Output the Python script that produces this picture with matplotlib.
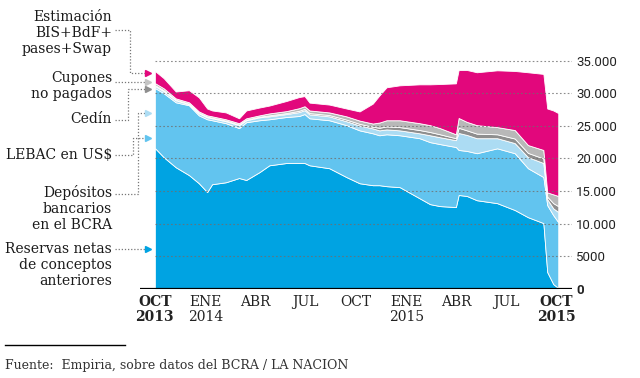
import numpy as np
import pandas as pd
import matplotlib.pyplot as plt

# fechas de lectura (aprox.) y stock en millones de US$
fechas = pd.to_datetime([
    "2013-10-01", "2013-10-17", "2013-11-08", "2013-12-02", "2013-12-20",
    "2014-01-04", "2014-01-13", "2014-02-07", "2014-03-03", "2014-03-16",
    "2014-04-09", "2014-04-27", "2014-05-28", "2014-06-20", "2014-06-30",
    "2014-07-09", "2014-08-14", "2014-09-14", "2014-10-08", "2014-11-01",
    "2014-11-13", "2014-11-26", "2014-12-20", "2015-01-25", "2015-02-13",
    "2015-03-03", "2015-04-01", "2015-04-06", "2015-04-21", "2015-05-09",
    "2015-06-15", "2015-07-17", "2015-08-10", "2015-09-07", "2015-09-14",
    "2015-09-25", "2015-10-04",
])
reservas = [21600, 20200, 18650, 17450, 16200, 14850, 16050, 16350, 17000, 16700,
            17900, 18950, 19300, 19300, 19300, 18950, 18500, 17150, 16200, 15900,
            15900, 15750, 15600, 13900, 13000, 12700, 12550, 14400, 14250, 13600,
            13150, 12100, 11000, 10100, 2600, 750, 150]
lebac = [9200, 9800, 9950, 10700, 10400, 11150, 9800, 9050, 7650, 8850,
         7950, 7050, 7050, 7200, 7500, 7200, 7350, 7950, 8100, 7950,
         7650, 7950, 7950, 9200, 9500, 9500, 9200, 6900, 6900, 7200,
         8400, 8700, 7500, 7050, 10250, 10550, 10100]
depositos = [300, 300, 300, 150, 300, 300, 300, 300, 450, 300,
             450, 450, 450, 600, 600, 600, 600, 600, 750, 750,
             750, 750, 750, 750, 1050, 1050, 1050, 2600, 2450, 2300,
             1550, 1550, 1700, 2150, 900, 1050, 1550]
cedin = [150, 150, 100, 100, 100, 100, 100, 100, 100, 100,
         100, 150, 150, 200, 200, 200, 200, 250, 250, 250,
         400, 450, 500, 500, 500, 450, 300, 800, 700, 700,
         600, 700, 650, 700, 400, 800, 900]
cupones = [300, 300, 200, 200, 200, 200, 200, 200, 200, 200,
           200, 300, 300, 400, 400, 400, 400, 500, 500, 500,
           800, 950, 1050, 1050, 1050, 950, 600, 1500, 1300, 1300,
           1100, 1300, 1200, 1300, 650, 1350, 1550]
estimacion = [1850, 1550, 1050, 1850, 2150, 1050, 900, 1050, 750, 1200,
              1200, 1200, 1550, 1700, 1550, 1200, 1200, 1200, 1400, 3050,
              4150, 5050, 5350, 5950, 6250, 6750, 7800, 7350, 7950, 8100,
              8700, 9050, 11150, 11650, 12850, 12850, 12700]

ticks = pd.to_datetime(["2013-10-01", "2014-01-01", "2014-04-01", "2014-07-01", "2014-10-01",
                        "2015-01-01", "2015-04-01", "2015-07-01", "2015-10-01"])
tick_labels = ["OCT\n2013", "ENE\n2014", "ABR", "JUL", "OCT", "ENE\n2015", "ABR", "JUL", "OCT\n2015"]
niveles = [0, 5000, 10000, 15000, 20000, 25000, 30000, 35000]
niveles_txt = ["0", "5000", "10.000", "15.000", "20.000", "25.000", "30.000", "35.000"]

colores = ["#00a3e2", "#62c4ef", "#acdcf3", "#8e8e8e", "#b8b8b8", "#e2077c"]
serif = "DejaVu Serif"

fig = plt.figure(figsize=(6.4, 3.78), dpi=100)

# capa en pixeles para textos y guias
lay = fig.add_axes([0, 0, 1, 1])
lay.set_xlim(0, 640)
lay.set_ylim(378, 0)
lay.axis("off")

ax = fig.add_axes([140 / 640, (378 - 289) / 378, 432 / 640, 235 / 378])
ax.set_facecolor("none")
ax.stackplot(fechas, reservas, lebac, depositos, cedin, cupones, estimacion,
             colors=colores, edgecolor="white", linewidth=0.6)

x0 = pd.Timestamp("2013-09-04")
x1 = pd.Timestamp("2015-10-29")
ax.set_xlim(x0, x1)
ax.set_ylim(0, 36000)

for v in niveles[1:]:
    ax.plot([fechas[0], x1], [v, v], color="#6f6f6f", lw=0.8,
            ls=(0, (1.5, 2)), alpha=0.8, zorder=5)
ax.axhline(0, color="black", lw=1.6, zorder=6)

for s in ax.spines.values():
    s.set_visible(False)

ax.set_xticks(ticks)
ax.set_xticklabels(tick_labels, family=serif, fontsize=10, color="#222222",
                   linespacing=1.15, va="top")
ax.tick_params(axis="x", length=0, pad=4)
for i in (0, len(ticks) - 1):
    ax.get_xticklabels()[i].set_fontweight("bold")

ax.yaxis.tick_right()
ax.set_yticks(niveles)
ax.set_yticklabels(niveles_txt, family="Roboto", fontsize=9.5, color="#222222")
ax.tick_params(axis="y", length=0, pad=3)
ax.get_yticklabels()[0].set_fontweight("bold")

# rotulos de la izquierda
rotulos = [
    (17, "Estimación"), (33, "BIS+BdF+"), (49, "pases+Swap"),
    (78, "Cupones"), (94, "no pagados"),
    (119, "Cedín"),
    (155, "LEBAC en US$"),
    (193, "Depósitos"), (209, "bancarios"), (225, "en el BCRA"),
    (249, "Reservas netas"), (265, "de conceptos"), (281, "anteriores"),
]
for y, t in rotulos:
    lay.text(112, y, t, family=serif, fontsize=10, ha="right", va="center", color="#1a1a1a")

guias = [
    ([115, 130, 130, 146], [30, 30, 73, 73], "#e2077c"),
    ([115, 146], [82, 82], "#c4c4c4"),
    ([115, 128, 128, 146], [120, 120, 89, 89], "#8e8e8e"),
    ([115, 133, 133, 146], [155, 155, 138, 138], "#62c4ef"),
    ([115, 138, 138, 146], [194, 194, 113, 113], "#acdcf3"),
    ([115, 146], [249, 249], "#00a3e2"),
]
for xs, ys, c in guias:
    lay.plot(xs, ys, color="#777777", lw=0.9, ls=(0, (1, 1.5)))
    lay.plot(xs[-1] + 2, ys[-1], marker=">", ms=5, color=c, mec=c)

lay.plot([5, 125], [345, 345], color="black", lw=1)
lay.text(5, 366, "Fuente:  Empiria, sobre datos del BCRA / LA NACION", family=serif,
         fontsize=9, ha="left", va="center", color="#333333")

fig.savefig("out.png", dpi=100)
